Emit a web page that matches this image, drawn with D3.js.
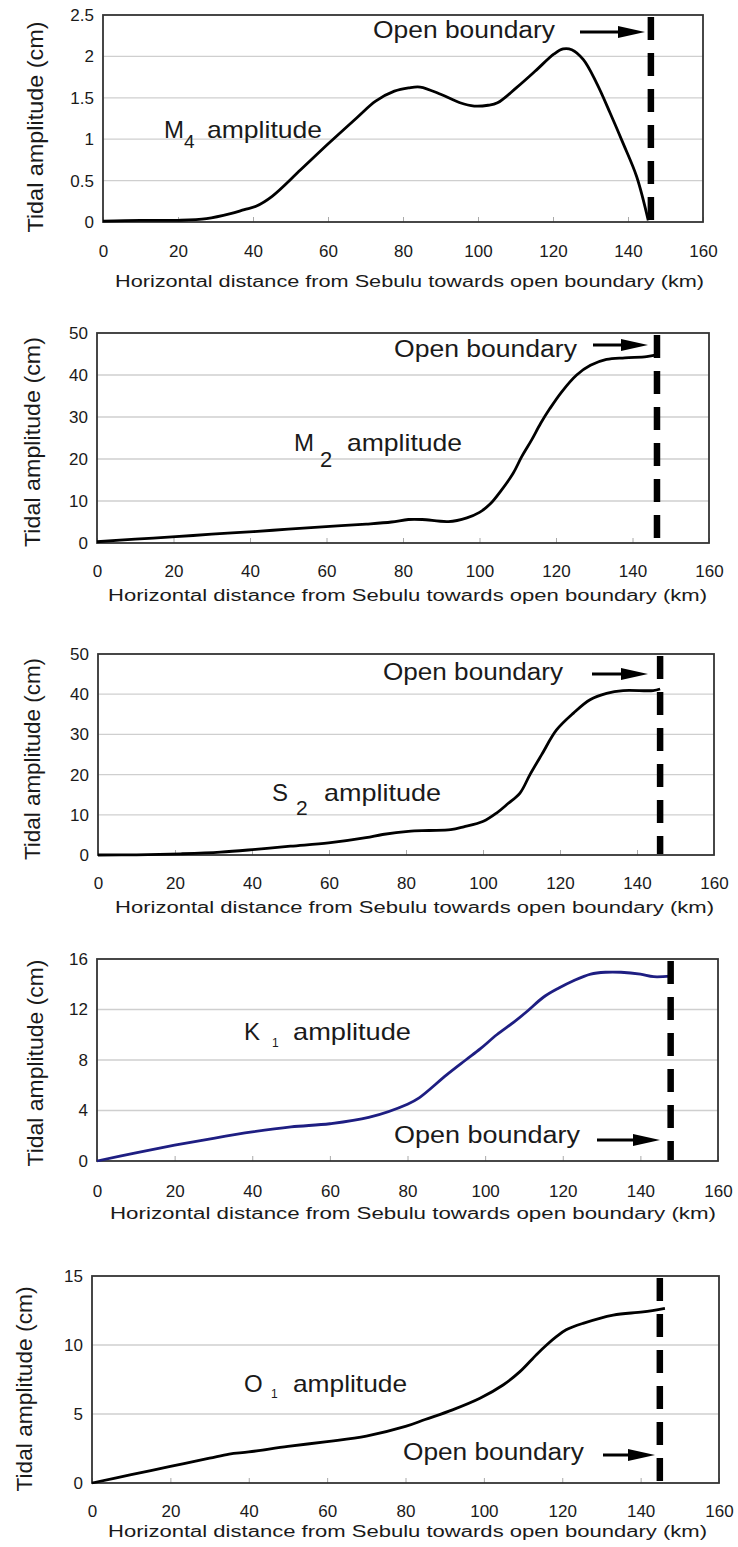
<!DOCTYPE html>
<html lang="en">
<head>
<meta charset="UTF-8">
<title>Tidal amplitude along the river</title>
<script src="https://d3js.org/d3.v7.min.js"></script>
<style>
    body { margin: 0; background: #fff; }
    svg text { font-family: "Liberation Sans", Arial, sans-serif; fill: #1a1a1a; }
</style>
</head>
<body>
<svg width="738" height="1547"></svg>
<script>
// x axis ticks shared by all panels (km)
const xTicks = [0, 20, 40, 60, 80, 100, 120, 140, 160];

// M4
const m4Km  = [0, 10, 20, 27.6, 34, 37.7, 40.8, 45.1, 52.7, 60.2, 67.7, 72.7, 77.7, 81.5, 84.6, 90.2, 95.2, 99, 102.7, 105.2, 110.2, 115.2, 120.3, 122.7, 125, 128.1, 131.6, 135.2, 138.7, 142.3, 145.4];
const m4Amp = [0.01, 0.02, 0.02, 0.04, 0.1, 0.15, 0.19, 0.31, 0.63, 0.95, 1.26, 1.46, 1.58, 1.62, 1.63, 1.54, 1.44, 1.40, 1.41, 1.44, 1.62, 1.82, 2.03, 2.09, 2.08, 1.96, 1.68, 1.32, 0.95, 0.55, 0.02];
const m4Ticks = [0, 0.5, 1, 1.5, 2, 2.5];

// M2
const m2Km  = [0, 10, 20.6, 30, 40.9, 50, 59.9, 70.4, 77, 81.4, 85, 91.9, 96.7, 100, 102.7, 105.5, 108.8, 111, 113.6, 116, 118.4, 121.5, 125.4, 129, 133.2, 138, 143.7, 146.3];
const m2Amp = [0.3, 0.9, 1.5, 2.1, 2.7, 3.3, 3.9, 4.5, 5.0, 5.6, 5.6, 5.1, 6.0, 7.3, 9.2, 12.3, 16.6, 20.5, 24.5, 28.5, 32, 36, 40, 42.3, 43.7, 44.1, 44.4, 44.8];
const m2Ticks = [0, 10, 20, 30, 40, 50];

// S2
const s2Km  = [0, 10, 21.5, 31.8, 40.9, 50, 59.9, 69.6, 73.9, 80.6, 86, 91.6, 95, 100.1, 103.6, 106.5, 109.6, 112.2, 115.2, 119.1, 123.5, 127.8, 132.1, 136.4, 144.2, 146];
const s2Amp = [0, 0.05, 0.3, 0.7, 1.4, 2.2, 3.0, 4.3, 5.1, 5.9, 6.1, 6.3, 7.0, 8.4, 10.5, 12.8, 15.4, 20, 24.9, 31.1, 35.3, 38.6, 40.2, 40.9, 40.9, 41.3];
const s2Ticks = [0, 10, 20, 30, 40, 50];

// K1
const k1Km  = [0, 10, 20, 30, 40, 50, 60, 70, 80, 83, 90, 95, 98.8, 103, 107.4, 111, 115, 119, 122.9, 127.2, 131, 135, 140, 143.4, 147.8];
const k1Amp = [0, 0.65, 1.25, 1.8, 2.3, 2.7, 2.95, 3.45, 4.5, 5.0, 6.8, 8.0, 8.9, 10.0, 11.0, 11.9, 12.97, 13.7, 14.3, 14.8, 14.95, 14.95, 14.8, 14.6, 14.65];
const k1Ticks = [0, 4, 8, 12, 16];

// O1
const o1Km  = [0, 10, 20, 30, 35, 40, 50, 60, 70, 80, 85, 92, 99, 104.9, 109.2, 113.4, 116, 118.5, 121, 125.3, 133, 140.6, 146.2];
const o1Amp = [0, 0.6, 1.2, 1.8, 2.1, 2.25, 2.65, 3.0, 3.4, 4.1, 4.6, 5.3, 6.14, 7.1, 8.07, 9.3, 10.0, 10.6, 11.1, 11.57, 12.17, 12.4, 12.66];
const o1Ticks = [0, 5, 10, 15];

const xTitle = "Horizontal distance from Sebulu towards open boundary (km)";
const yTitle = "Tidal amplitude (cm)";

// panel layout in pixels
// lab: [letterX, subX, wordX, wordEndX, baseline, subBaseline, subSize]
// ob:  [textX, textEndX, baseline, arrowX1, arrowX2, arrowY]
const panels = [
    { km: m4Km, amp: m4Amp, yTicks: m4Ticks, left: 103, right: 703, top: 15, bottom: 222, color: "#000", boundary: 146.1,
      letter: "M", sub: "4", lab: [164, 184, 207, 322, 138, 148, 19], ob: [373, 555, 38, 580, 645, 32],
      tickBase: 35, titleBase: 65, titleX: [115, 704], yT: [36, 127, 211] },
    { km: m2Km, amp: m2Amp, yTicks: m2Ticks, left: 97, right: 709, top: 333, bottom: 543, color: "#000", boundary: 146.4,
      letter: "M", sub: "2", lab: [294, 320, 347, 462, 451, 467, 22], ob: [394, 577, 357, 593, 648, 345],
      tickBase: 34, titleBase: 58, titleX: [108, 707], yT: [33, 442, 210] },
    { km: s2Km, amp: s2Amp, yTicks: s2Ticks, left: 98, right: 714, top: 654, bottom: 855, color: "#000", boundary: 146,
      letter: "S", sub: "2", lab: [272, 296, 324, 441, 801, 815, 21], ob: [383, 563, 680, 592, 648, 674],
      tickBase: 34, titleBase: 58, titleX: [115, 714], yT: [33, 759, 202] },
    { km: k1Km, amp: k1Amp, yTicks: k1Ticks, left: 97, right: 718, top: 959, bottom: 1161, color: "#1e1e82", boundary: 147.8,
      letter: "K", sub: "1", lab: [244, 272, 293, 411, 1040, 1047, 12], ob: [394, 580, 1143, 597, 660, 1140],
      tickBase: 36, titleBase: 58, titleX: [110, 716], yT: [36, 1063, 207] },
    { km: o1Km, amp: o1Amp, yTicks: o1Ticks, left: 92, right: 719, top: 1276, bottom: 1483, color: "#000", boundary: 144.9,
      letter: "O", sub: "1", lab: [244, 271, 293, 407, 1392, 1398, 12], ob: [403, 584, 1460, 603, 655, 1455],
      tickBase: 34, titleBase: 54, titleX: [108, 707], yT: [25, 1389, 205] }
];

const svg = d3.select("svg");

panels.forEach(p => {
    const x = d3.scaleLinear().domain([0, 160]).range([p.left, p.right]);
    const yMax = p.yTicks[p.yTicks.length - 1];
    const y = d3.scaleLinear().domain([0, yMax]).range([p.bottom, p.top]);
    const g = svg.append("g");

    // grid lines
    g.selectAll(".grid").data(p.yTicks.slice(1, -1)).enter().append("line")
        .attr("x1", p.left).attr("x2", p.right)
        .attr("y1", d => y(d)).attr("y2", d => y(d))
        .attr("stroke", "#cfcfcf").attr("stroke-width", 1.3);

    // x axis: small inner ticks + labels
    const xa = g.append("g")
        .attr("transform", `translate(0,${p.bottom})`)
        .call(d3.axisBottom(x).tickValues(xTicks).tickSize(-5).tickFormat(d => String(d)));
    xa.select(".domain").remove();
    xa.selectAll("line").attr("stroke", "#aaa");
    xa.selectAll("text")
        .attr("y", p.tickBase).attr("dy", 0)
        .attr("font-size", 17).attr("fill", "#1a1a1a")
        .style("font-family", '"Liberation Sans", Arial, sans-serif');

    // y axis labels
    const ya = g.append("g")
        .attr("transform", `translate(${p.left},0)`)
        .call(d3.axisLeft(y).tickValues(p.yTicks).tickSize(0).tickPadding(9).tickFormat(d => String(d)));
    ya.select(".domain").remove();
    ya.selectAll("text").attr("font-size", 17).attr("fill", "#1a1a1a")
        .style("font-family", '"Liberation Sans", Arial, sans-serif');

    // plot box
    g.append("rect")
        .attr("x", p.left).attr("y", p.top)
        .attr("width", p.right - p.left).attr("height", p.bottom - p.top)
        .attr("fill", "none").attr("stroke", "#333").attr("stroke-width", 1.8);

    // amplitude curve
    const line = d3.line().x(d => x(d[0])).y(d => y(d[1])).curve(d3.curveCatmullRom.alpha(0.5));
    g.append("path")
        .datum(p.km.map((k, i) => [k, p.amp[i]]))
        .attr("d", line)
        .attr("fill", "none").attr("stroke", p.color).attr("stroke-width", 2.8)
        .attr("stroke-linejoin", "round");

    // open boundary dashed line
    g.append("line")
        .attr("x1", x(p.boundary)).attr("x2", x(p.boundary))
        .attr("y1", p.top + 2).attr("y2", p.bottom - 1)
        .attr("stroke", "#000").attr("stroke-width", 6.5)
        .attr("stroke-dasharray", "23,13");

    // "Open boundary" label and arrow
    g.append("text").attr("x", p.ob[0]).attr("y", p.ob[2])
        .attr("font-size", 23).attr("textLength", p.ob[1] - p.ob[0]).attr("lengthAdjust", "spacingAndGlyphs")
        .text("Open boundary");
    g.append("line")
        .attr("x1", p.ob[3]).attr("x2", p.ob[4] - 20)
        .attr("y1", p.ob[5]).attr("y2", p.ob[5])
        .attr("stroke", "#000").attr("stroke-width", 3);
    g.append("path")
        .attr("d", `M${p.ob[4]},${p.ob[5]} L${p.ob[4] - 27},${p.ob[5] - 6} L${p.ob[4] - 27},${p.ob[5] + 6} Z`)
        .attr("fill", "#000");

    // constituent label
    g.append("text").attr("x", p.lab[0]).attr("y", p.lab[4]).attr("font-size", 24).text(p.letter);
    g.append("text").attr("x", p.lab[1]).attr("y", p.lab[5]).attr("font-size", p.lab[6]).text(p.sub);
    g.append("text").attr("x", p.lab[2]).attr("y", p.lab[4]).attr("font-size", 24)
        .attr("textLength", p.lab[3] - p.lab[2]).attr("lengthAdjust", "spacingAndGlyphs").text("amplitude");

    // axis titles
    g.append("text")
        .attr("x", p.titleX[0]).attr("y", p.bottom + p.titleBase)
        .attr("font-size", 16).attr("textLength", p.titleX[1] - p.titleX[0]).attr("lengthAdjust", "spacingAndGlyphs")
        .text(xTitle);
    g.append("text")
        .attr("transform", `translate(${p.yT[0]},${p.yT[1]}) rotate(-90)`)
        .attr("text-anchor", "middle").attr("dy", "0.33em")
        .attr("font-size", 22).attr("textLength", p.yT[2]).attr("lengthAdjust", "spacingAndGlyphs")
        .text(yTitle);
});
</script>
</body>
</html>
